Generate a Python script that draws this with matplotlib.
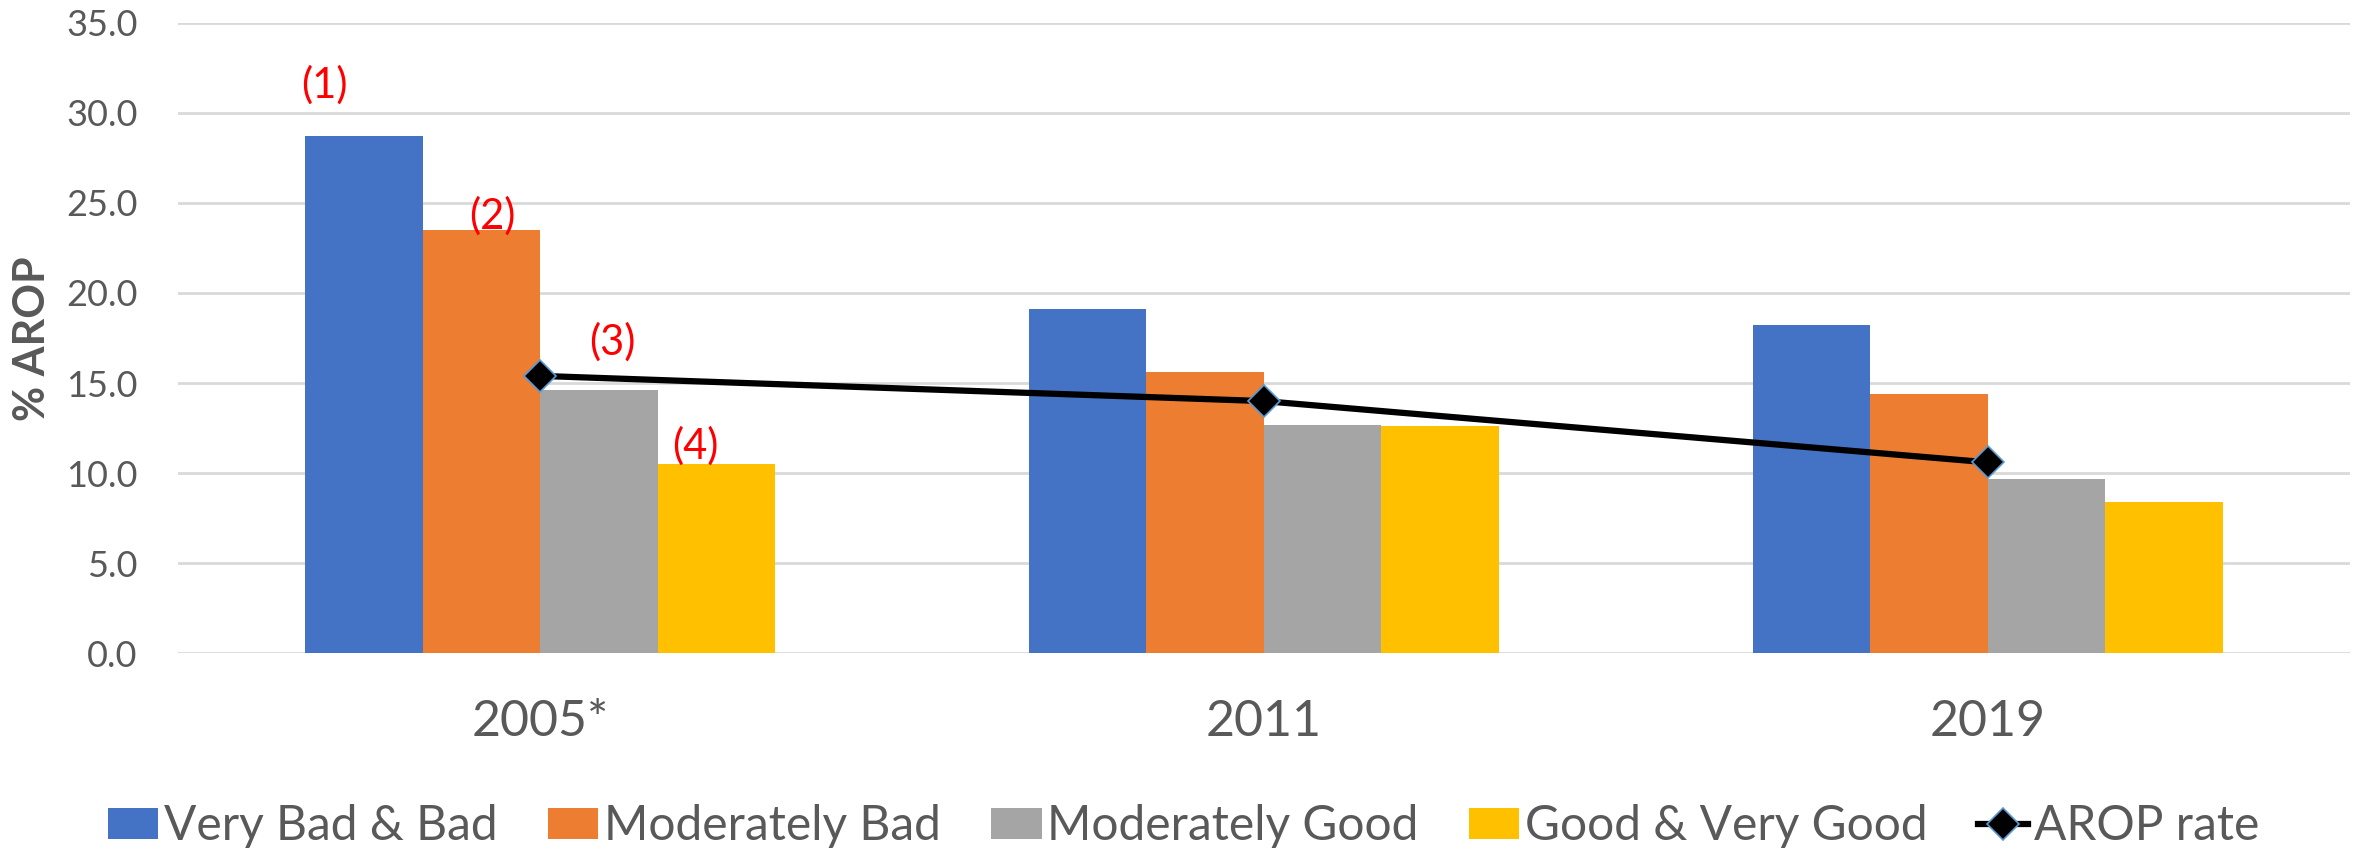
import matplotlib

matplotlib.use("Agg")
import matplotlib.pyplot as plt
import numpy as np

plt.rcParams["font.family"] = ["Lato", "DejaVu Sans"]

TEXT = "#595959"
GRID = "#D9D9D9"

years = ["2005*", "2011", "2019"]
series_names = ["Very Bad & Bad", "Moderately Bad", "Moderately Good", "Good & Very Good"]
series_colors = ["#4472C4", "#ED7D31", "#A5A5A5", "#FFC000"]

very_bad_bad = [28.7, 19.1, 18.2]
moderately_bad = [23.5, 15.6, 14.4]
moderately_good = [14.6, 12.7, 9.7]
good_very_good = [10.5, 12.6, 8.4]
arop_rate = [15.4, 14.0, 10.6]

notes = ["(1)", "(2)", "(3)", "(4)"]
note_xy = [(-0.298, 31.55), (-0.066, 24.25), (0.0995, 17.3), (0.215, 11.5)]

fig = plt.figure(figsize=(23.77, 8.52), dpi=100)
ax = fig.add_axes([0.0749, 0.2331, 0.9137, 0.7403])

x = np.arange(len(years))
width = 0.1623
series = [very_bad_bad, moderately_bad, moderately_good, good_very_good]
handles = []
for i, (vals, name, color) in enumerate(zip(series, series_names, series_colors)):
    h = ax.bar(x + (i - 1.5) * width, vals, width, color=color, linewidth=0,
               label=name, zorder=2)
    handles.append(h)

line, = ax.plot(x, arop_rate, color="black", linewidth=4.5, marker="D",
                markersize=16, markerfacecolor="black",
                markeredgecolor="#5B9BD5", markeredgewidth=1.2,
                label="AROP rate", zorder=3)
handles.append(line)

# numbered notes on the 2005 bars
for txt, (nx, ny) in zip(notes, note_xy):
    ax.text(nx, ny, txt, color="#FF0000", fontsize=30, ha="center", va="center",
            zorder=4)

ax.set_xlim(-0.5, 2.5)
ax.set_ylim(0, 35)
yticks = np.arange(0, 35.1, 5)
ax.set_yticks(yticks)
ax.set_yticklabels([f"{v:.1f}" for v in yticks])
ax.set_xticks(x)
ax.set_xticklabels(years)
ax.tick_params(axis="y", length=0, pad=29, labelsize=26, labelcolor=TEXT)
ax.tick_params(axis="x", length=0, pad=33, labelsize=36, labelcolor=TEXT)
ax.grid(axis="y", color=GRID, linewidth=2, zorder=0)
ax.set_axisbelow(True)
for spine in ax.spines.values():
    spine.set_visible(False)

fig.text(32 / 2377, 1 - 339 / 852, "% AROP", rotation=90,
         ha="center", va="center", fontsize=31, fontweight="bold", color=TEXT)

fig.legend(handles=handles, loc="center", bbox_to_anchor=(0.498, 0.0305),
           ncol=5, frameon=False, fontsize=34.5, labelcolor=TEXT,
           handlelength=1.05, handleheight=0.62, handletextpad=0.12,
           columnspacing=1.05)

fig.savefig("out.png", dpi=100)
plt.close(fig)
